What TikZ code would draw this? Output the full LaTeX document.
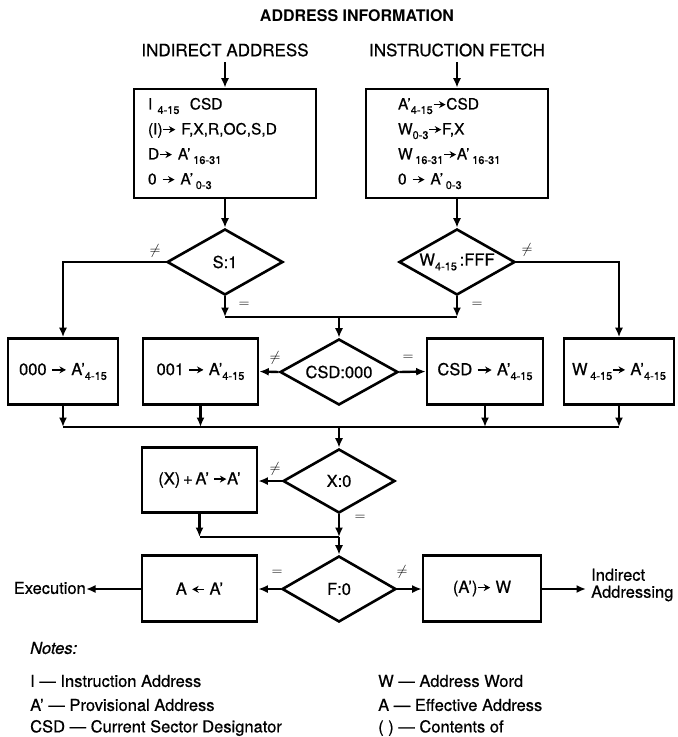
\documentclass[tikz,border=0pt]{standalone}
\usepackage{fontspec}
\setmainfont{TeX Gyre Heros}[UprightFeatures={FakeBold=0.6},ItalicFeatures={FakeBold=0.6}]
\usetikzlibrary{shapes.geometric,arrows.meta}

% short heavy arrows used inside the transfer statements
\newcommand\rarr[1][12pt]{\tikz[baseline=-0.6ex]\draw[line width=1.5pt,-{Stealth[length=6.5pt,width=7pt]}](0pt,0pt)--(#1,0pt);}
\newcommand\larr[1][12pt]{\tikz[baseline=-0.6ex]\draw[line width=1.5pt,-{Stealth[length=6.5pt,width=7pt]}](#1,0pt)--(0pt,0pt);}
% lowered bit-range index
\newcommand\lo[1]{\raisebox{-0.55ex}{\fontsize{11}{11}\selectfont #1}}

\begin{document}
\begin{tikzpicture}[x=1pt,y=-1pt,
  every node/.style={font=\fontsize{16.5}{19}\selectfont},
  box/.style={draw,line width=2.6pt,minimum height=66pt,inner sep=0pt},
  listbox/.style={draw,line width=2.6pt,minimum width=182pt,minimum height=109pt,
    align=left,font=\fontsize{15.5}{25}\selectfont},
  dia/.style={draw,diamond,aspect=1.75,line width=2.6pt,inner sep=0pt,
    minimum width=116pt,minimum height=66pt},
  ln/.style={line width=2.4pt},
  arr/.style={line width=2.4pt,-{Latex[length=9.5pt,width=8pt]}},
  branchmark/.style={font=\fontsize{14}{14}\selectfont,inner sep=0pt}
]
\useasboundingbox (0,0) rectangle (678,737);

% heading and entry points
\node[font=\bfseries\fontsize{16}{16}\selectfont] (title) at (357,16) {ADDRESS INFORMATION};
\node[font=\fontsize{17}{19}\selectfont] (ia) at (225,50) {INDIRECT ADDRESS};
\node[font=\fontsize{17}{19}\selectfont] (ifetch) at (457,50) {INSTRUCTION FETCH};

% setup statements
\node[listbox,inner xsep=14pt,text width=154pt] (bl) at (225,143.5)
  {I\ \lo{4-15}\ \ CSD\\
   (I)\rarr\ F,X,R,OC,S,D\\
   D\rarr\ A’\,\lo{16-31}\\
   0 \rarr\ A’\,\lo{0-3}};
\node[listbox,inner xsep=32pt,text width=118pt] (br) at (457,143.5)
  {A’\lo{4-15}\rarr CSD\\
   W\lo{0-3}\rarr F,X\\
   W\,\lo{16-31}\rarr A’\,\lo{16-31}\\
   0 \rarr\ A’\,\lo{0-3}};

\draw[arr] (ia.south) ++(0,2) coordinate (iatop) -- (iatop |- bl.north);
\draw[arr] (ifetch.south) ++(0,2) coordinate (iftop) -- (iftop |- br.north);

% first tests
\node[dia] (s1) at (225,262) {S:1};
\node[dia] (wf) at (457,262) {W\lo{4-15}\,:FFF};
\draw[arr] (bl.south) -- (s1.north);
\draw[arr] (br.south) -- (wf.north);

% merge below the first tests
\coordinate (j1) at (339,317);
\draw[arr] (s1.south) -- (s1.south |- j1);
\draw[arr] (wf.south) -- (wf.south |- j1);
\draw[ln] (s1.south |- j1) -- (wf.south |- j1);

% sector selection row
\node[dia,minimum width=118pt] (csd) at (339,372) {CSD:000};
\node[box,minimum width=110pt] (b0) at (63,371.5) {000 \rarr[14pt]\ A’\lo{4-15}};
\node[box,minimum width=115pt] (b1) at (200.5,371.5) {001 \rarr[14pt]\ A’\lo{4-15}};
\node[box,minimum width=116pt] (b2) at (485,371.5) {CSD \rarr[14pt]\ A’\lo{4-15}};
\node[box,minimum width=110pt] (b3) at (619,371.5) {W\,\lo{4-15}\rarr\ A’\lo{4-15}};

\draw[arr] (j1) -- (csd.north);
\draw[arr] (s1.west) -| (b0.north);
\draw[arr] (wf.east) -| (b3.north);
\draw[arr] (csd.west) -- (b1.east);
\draw[arr] (csd.east) -- (b2.west);

% merge below the row
\coordinate (j2) at (339,427);
\foreach \b in {b0,b1,b2,b3} \draw[arr] (\b.south) -- (\b.south |- j2);
\draw[ln] (b0.south |- j2) -- (b3.south |- j2);

% indexing
\node[dia,minimum width=112pt,minimum height=64pt] (x0) at (339,481) {X:0};
\node[box,minimum width=115pt,minimum height=65pt] (bx) at (199.5,480) {(X)\,+\,A’ \rarr A’};
\draw[arr] (j2) -- (x0.north);
\draw[arr] (x0.west) -- (bx.east |- x0.west);

\coordinate (j3) at (339,537);
\draw[arr] (bx.south) -- (bx.south |- j3);
\draw[ln] (bx.south |- j3) -- (j3);
\draw[arr] (x0.south) -- (j3);

% indirect bit
\node[dia,minimum width=114pt] (f0) at (339,589) {F:0};
\node[box,minimum width=115pt] (ba) at (199.5,588.5) {A \larr\ A’};
\node[box,minimum width=118pt] (bw) at (482,588.5) {(A’)\rarr\ W};
\draw[arr] (j3) -- (f0.north);
\draw[arr] (f0.west) -- (ba.east |- f0.west);
\draw[arr] (f0.east) -- (bw.west |- f0.east);

\node[anchor=east,inner sep=0pt] (exe) at (86,588) {Execution};
\node[anchor=west,align=left,inner sep=0pt,font=\fontsize{16.5}{17}\selectfont] (ind) at (591,585) {Indirect\\Addressing};
\draw[arr] (ba.west |- f0.west) -- (exe.east |- f0.west);
\draw[arr] (bw.east |- f0.east) -- ([xshift=-5pt]ind.west |- f0.east);

% branch marks
\node[branchmark] (m1) at (155,251) {$\neq$};
\node[branchmark] (m2) at (244,305) {$=$};
\node[branchmark] (m3) at (527,250) {$\neq$};
\node[branchmark] (m4) at (477,305) {$=$};
\node[branchmark] (m5) at (275,358) {$\neq$};
\node[branchmark] (m6) at (408,358) {$=$};
\node[branchmark] (m7) at (275,469) {$\neq$};
\node[branchmark] (m8) at (360,518) {$=$};
\node[branchmark] (m9) at (277,573) {$=$};
\node[branchmark] (m10) at (402,572) {$\neq$};

% notes
\node[anchor=west,inner sep=0pt,font=\itshape\fontsize{16.5}{18}\selectfont] (notes) at (30,648) {Notes:};
\node[anchor=west,inner sep=0pt] (n1) at (30,681) {I — Instruction Address};
\node[anchor=west,inner sep=0pt] (n2) at (30,705) {A’ — Provisional Address};
\node[anchor=west,inner sep=0pt] (n3) at (30,728) {CSD — Current Sector Designator};
\node[anchor=west,inner sep=0pt] (n4) at (378,681) {W — Address Word};
\node[anchor=west,inner sep=0pt] (n5) at (378,705) {A — Effective Address};
\node[anchor=west,inner sep=0pt] (n6) at (378,728) {( ) — Contents of};
\end{tikzpicture}
\end{document}
